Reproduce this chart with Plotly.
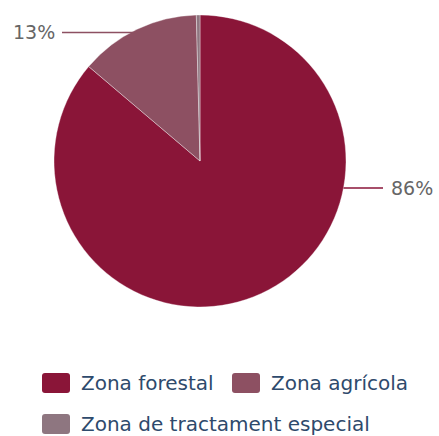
import math
import plotly.graph_objects as go

categories = ["Zona forestal", "Zona agrícola", "Zona de tractament especial"]
values = [86.2, 13.4, 0.4]
colors = ["#8A1538", "#8D5062", "#8E7680"]

W, H = 439, 436
cx, cy, R = 200, 161, 146


def px(x):
    return x / W


def py(y):
    return 1 - y / H


fig = go.Figure(go.Pie(
    labels=categories, values=values, sort=False, direction="clockwise", rotation=0,
    marker=dict(colors=colors, line=dict(color="rgba(255,255,255,0.6)", width=0.6)),
    textinfo="none", hoverinfo="label+percent", showlegend=False,
    domain=dict(x=[px(cx - R), px(cx + R)], y=[py(cy + R), py(cy - R)]),
))

total = sum(values)
shapes, annotations = [], []
font = dict(family="DejaVu Sans, Verdana, sans-serif", size=19, color="#666666")

# 13% label: leader line into the agrícola slice
start = values[0] / total * 360
mid = math.radians(start + values[1] / total * 360 / 2)
ex = cx + R * math.sin(mid)
ly1 = 32.5
shapes.append(dict(type="line", xref="paper", yref="paper", x0=px(62), y0=py(ly1), x1=px(ex), y1=py(ly1),
                   line=dict(color=colors[1], width=1.3)))
annotations.append(dict(xref="paper", yref="paper", x=px(57), y=py(ly1), xanchor="right", yanchor="middle",
                        text=f"{round(values[1] / total * 100)}%", showarrow=False, font=font))

# 86% label
ly = 188
ex2 = cx + math.sqrt(R ** 2 - (ly - cy) ** 2)
shapes.append(dict(type="line", xref="paper", yref="paper", x0=px(ex2), y0=py(ly), x1=px(383), y1=py(ly),
                   line=dict(color=colors[0], width=1.3)))
annotations.append(dict(xref="paper", yref="paper", x=px(389), y=py(ly), xanchor="left", yanchor="middle",
                        text=f"{round(values[0] / total * 100)}%", showarrow=False, font=font))

# custom legend
legend_pos = [(42, 383), (232, 383), (42, 424)]
lfont = dict(family="DejaVu Sans, Verdana, sans-serif", size=20, color="#2E4A6C")
for (lx, lyy), name, col in zip(legend_pos, categories, colors):
    x0, x1, y0, y1 = lx, lx + 28, lyy - 10, lyy + 10
    r = 3
    path = (f"M {px(x0 + r)},{py(y0)} L {px(x1 - r)},{py(y0)} Q {px(x1)},{py(y0)} {px(x1)},{py(y0 + r)} "
            f"L {px(x1)},{py(y1 - r)} Q {px(x1)},{py(y1)} {px(x1 - r)},{py(y1)} "
            f"L {px(x0 + r)},{py(y1)} Q {px(x0)},{py(y1)} {px(x0)},{py(y1 - r)} "
            f"L {px(x0)},{py(y0 + r)} Q {px(x0)},{py(y0)} {px(x0 + r)},{py(y0)} Z")
    shapes.append(dict(type="path", xref="paper", yref="paper", path=path, fillcolor=col, line=dict(width=0)))
    annotations.append(dict(xref="paper", yref="paper", x=px(x1 + 9), y=py(lyy), xanchor="left", yanchor="middle",
                            text=name, showarrow=False, font=lfont))

fig.update_layout(
    width=W, height=H, margin=dict(l=0, r=0, t=0, b=0),
    paper_bgcolor="white", plot_bgcolor="white",
    shapes=shapes, annotations=annotations,
)

fig.write_html("out.html", config={"displayModeBar": False},
               post_script="document.body.style.margin='0';document.body.style.overflow='hidden';")
